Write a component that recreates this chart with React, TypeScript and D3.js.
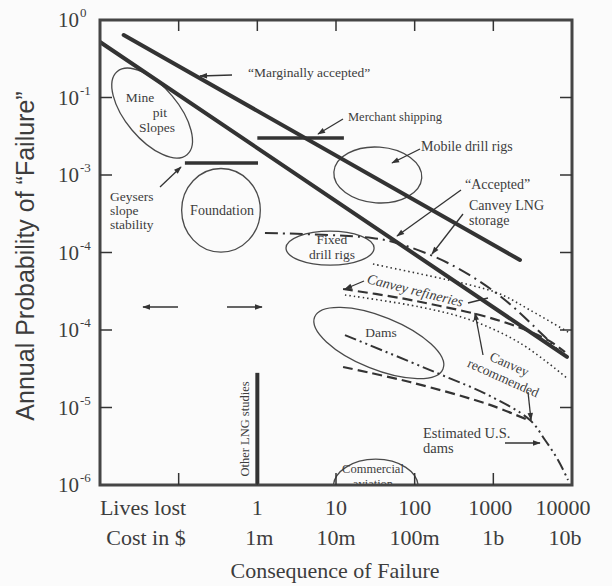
import React from 'react';
import * as d3 from 'd3';

const W = 612;
const H = 586;
const FRAME = { left: 100, top: 20, right: 572, bottom: 485 };

// Axis domains: lives lost (x) and annual probability of failure (y)
const livesDomain: [number, number] = [0.01, 10000];
const probDomain: [number, number] = [1e-6, 1];

const xTickValues = [1, 10, 100, 1000, 10000];
const livesLabels = ['1', '10', '100', '1000', '10000'];
const costLabels = ['1m', '10m', '100m', '1b', '10b'];
const xMinorTicks = [0.1, 1, 10, 100, 1000];
const yTickValues = [1, 1e-1, 1e-2, 1e-3, 1e-4, 1e-5, 1e-6];
const yTickExponents = ['0', '-1', '-3', '-4', '-4', '-5', '-6'];

// Criterion lines, [lives lost, annual probability]
const marginallyAccepted: [number, number][] = [[0.02, 0.64], [2180, 8.0e-4]];
const accepted: [number, number][] = [[0.01, 0.52], [8630, 4.5e-5]];
const merchantShipping: [number, number][] = [[1, 0.03], [12.6, 0.03]];
const geysersSlope: [number, number][] = [[0.12, 0.0143], [1.02, 0.0143]];
const otherLNGStudies: [number, number][] = [[1, 2.8e-5], [1, 1e-6]];

// Risk curves
const canveyLNGStorage: [number, number][] = [
  [1.25, 1.79e-3], [28.7, 1.54e-3], [65, 1.29e-3], [281, 7.1e-4], [1216, 2.75e-4], [4540, 8.1e-5], [7000, 5.2e-5],
];
const canveyUpperDotted: [number, number][] = [
  [29.5, 7.1e-4], [157, 4.97e-4], [505, 3.81e-4], [1216, 2.92e-4], [2920, 1.81e-4], [9420, 9.1e-5],
];
const canveyRefineries: [number, number][] = [
  [12.3, 3.38e-4], [65, 2.59e-4], [210, 2.04e-4], [676, 1.56e-4], [1880, 1.13e-4], [4950, 7.4e-5], [8150, 5.2e-5],
];
const canveyRecommended: [number, number][] = [
  [13, 2.83e-4], [117, 1.98e-4], [505, 1.35e-4], [2180, 6.8e-5], [8630, 2.4e-5],
];
const estimatedUSDams: [number, number][] = [
  [13, 8.6e-5], [192, 2.79e-5], [906, 1.41e-5], [2920, 6.9e-6], [4540, 3.81e-6], [6640, 2.1e-6], [8900, 1.16e-6],
];
const damsLower: [number, number][] = [
  [12.3, 3.33e-5], [87, 2.13e-5], [906, 1.08e-5], [2750, 6.9e-6],
];

// Experience regions: centre [lives, probability], half-axes in decades, tilt in degrees
const regionNames = ['minePit', 'foundation', 'mobileRigs', 'fixedRigs', 'dams', 'aviation'];
const regionCentres: [number, number][] = [
  [0.046, 0.063], [0.345, 3.5e-3], [34, 0.01], [8.4, 1.14e-3], [35, 6.8e-5], [32, 9.4e-7],
];
const regionHalfAxes: [number, number][] = [
  [0.69, 0.34], [0.5, 0.54], [0.56, 0.36], [0.56, 0.22], [0.88, 0.34], [0.54, 0.36],
];
const regionTilts = [50, 0, 4, 0, 22, 0];

const INK = '#333333';
const TEXT = '#3d3d3d';
const SERIF = '"Liberation Serif", "DejaVu Serif", serif';
const SANS = '"Liberation Sans", Arial, sans-serif';

export default function App() {
  const x = d3.scaleLog().domain(livesDomain).range([FRAME.left, FRAME.right]);
  const y = d3.scaleLog().domain(probDomain).range([FRAME.bottom, FRAME.top]);
  const decadeX = (FRAME.right - FRAME.left) / Math.log10(livesDomain[1] / livesDomain[0]);
  const decadeY = (FRAME.bottom - FRAME.top) / Math.log10(probDomain[1] / probDomain[0]);

  const straight = d3.line<[number, number]>().x((d) => x(d[0])).y((d) => y(d[1]));
  const smooth = d3
    .line<[number, number]>()
    .x((d) => x(d[0]))
    .y((d) => y(d[1]))
    .curve(d3.curveCatmullRom.alpha(0.5));

  const leaders: { x1: number; y1: number; x2: number; y2: number; head: boolean }[] = [
    { x1: 232, y1: 75, x2: 200, y2: 76, head: true },
    { x1: 343, y1: 119, x2: 318, y2: 134, head: true },
    { x1: 420, y1: 149, x2: 392, y2: 163, head: true },
    { x1: 461, y1: 190, x2: 397, y2: 236, head: true },
    { x1: 463, y1: 214, x2: 432, y2: 254, head: true },
    { x1: 160, y1: 187, x2: 181, y2: 167, head: true },
    { x1: 364, y1: 281, x2: 345, y2: 289, head: true },
    { x1: 468, y1: 303, x2: 488, y2: 298, head: false },
    { x1: 483, y1: 355, x2: 475, y2: 313, head: true },
    { x1: 528, y1: 392, x2: 531, y2: 420, head: true },
    { x1: 505, y1: 443, x2: 540, y2: 443, head: true },
    { x1: 178, y1: 307, x2: 143, y2: 307, head: true },
    { x1: 227, y1: 307, x2: 262, y2: 307, head: true },
  ];

  const smallText = { fontFamily: SERIF, fontSize: 13.5, fill: TEXT } as const;
  const axisText = { fontFamily: SERIF, fontSize: 22, fill: TEXT } as const;

  return (
    <svg
      width={W}
      height={H}
      viewBox={`0 0 ${W} ${H}`}
      style={{ position: 'absolute', left: 0, top: 0, background: '#fbfbfb' }}
    >
      <defs>
        <clipPath id="plot-clip">
          <rect x={FRAME.left} y={FRAME.top} width={FRAME.right - FRAME.left} height={FRAME.bottom - FRAME.top} />
        </clipPath>
        <marker id="head" viewBox="0 0 10 10" refX="9" refY="5" markerWidth="7" markerHeight="6" orient="auto">
          <path d="M0,1.5 L10,5 L0,8.5 z" fill={INK} />
        </marker>
      </defs>

      <g clipPath="url(#plot-clip)">
        {/* experience regions */}
        {regionNames.map((name, i) => {
          const [n, p] = regionCentres[i];
          const [a, b] = regionHalfAxes[i];
          const cx = x(n);
          const cy = y(p);
          return (
            <ellipse
              key={name}
              cx={cx}
              cy={cy}
              rx={a * decadeX}
              ry={b * decadeY}
              transform={`rotate(${regionTilts[i]} ${cx} ${cy})`}
              fill="none"
              stroke="#4a4a4a"
              strokeWidth={1.3}
            />
          );
        })}

        {/* risk curves */}
        <path d={smooth(canveyLNGStorage) ?? ''} fill="none" stroke={INK} strokeWidth={2} strokeDasharray="13,5,2,5" />
        <path d={smooth(canveyUpperDotted) ?? ''} fill="none" stroke={INK} strokeWidth={1.6} strokeDasharray="1.5,3" />
        <path d={smooth(canveyRefineries) ?? ''} fill="none" stroke={INK} strokeWidth={2.2} strokeDasharray="10,5" />
        <path d={smooth(canveyRecommended) ?? ''} fill="none" stroke={INK} strokeWidth={1.6} strokeDasharray="1.5,3" />
        <path d={smooth(estimatedUSDams) ?? ''} fill="none" stroke={INK} strokeWidth={2} strokeDasharray="12,4,2,4,2,4" />
        <path d={smooth(damsLower) ?? ''} fill="none" stroke={INK} strokeWidth={2.2} strokeDasharray="10,5" />

        {/* criterion lines */}
        <path d={straight(marginallyAccepted) ?? ''} fill="none" stroke={INK} strokeWidth={4} strokeLinecap="round" />
        <path d={straight(accepted) ?? ''} fill="none" stroke={INK} strokeWidth={4} strokeLinecap="round" />
        <path d={straight(merchantShipping) ?? ''} fill="none" stroke={INK} strokeWidth={3.5} />
        <path d={straight(geysersSlope) ?? ''} fill="none" stroke={INK} strokeWidth={3.5} />
        <path d={straight(otherLNGStudies) ?? ''} fill="none" stroke={INK} strokeWidth={4} />

        {/* region labels */}
        <text {...smallText} fontSize={12.5} textAnchor="middle" x={373} y={473}>Commercial</text>
        <text {...smallText} fontSize={12.5} textAnchor="middle" x={373} y={488}>aviation</text>
      </g>

      {/* leaders */}
      {leaders.map((l, i) => (
        <line
          key={i}
          x1={l.x1}
          y1={l.y1}
          x2={l.x2}
          y2={l.y2}
          stroke={INK}
          strokeWidth={1.3}
          markerEnd={l.head ? 'url(#head)' : undefined}
        />
      ))}

      {/* annotations */}
      <text {...smallText} x={248} y={77}>“Marginally accepted”</text>
      <text {...smallText} fontSize={12.5} x={348} y={121}>Merchant shipping</text>
      <text {...smallText} fontSize={14} x={421} y={151}>Mobile drill rigs</text>
      <text {...smallText} fontSize={14} x={465} y={189}>“Accepted”</text>
      <text {...smallText} fontSize={14} x={469} y={210}>Canvey LNG</text>
      <text {...smallText} fontSize={14} x={469} y={225}>storage</text>
      <text {...smallText} x={110} y={201}>Geysers</text>
      <text {...smallText} x={110} y={215}>slope</text>
      <text {...smallText} x={110} y={229}>stability</text>
      <text {...smallText} textAnchor="middle" x={140} y={102}>Mine</text>
      <text {...smallText} textAnchor="middle" x={160} y={117}>pit</text>
      <text {...smallText} textAnchor="middle" x={157} y={132}>Slopes</text>
      <text {...smallText} fontSize={14} textAnchor="middle" x={222} y={215}>Foundation</text>
      <text {...smallText} textAnchor="middle" x={332} y={244}>Fixed</text>
      <text {...smallText} textAnchor="middle" x={332} y={259}>drill rigs</text>
      <text {...smallText} textAnchor="middle" x={381} y={337}>Dams</text>
      <text {...smallText} fontSize={14} fontStyle="italic" textAnchor="middle" transform="translate(414,295) rotate(14)">
        Canvey refineries
      </text>
      <g transform="translate(506,372) rotate(24)">
        <text {...smallText} textAnchor="middle" x={0} y={-4}>Canvey</text>
        <text {...smallText} textAnchor="middle" x={0} y={11}>recommended</text>
      </g>
      <text {...smallText} fontSize={14.5} x={423} y={438}>Estimated U.S.</text>
      <text {...smallText} fontSize={14.5} x={423} y={453}>dams</text>
      <text {...smallText} fontSize={12.5} textAnchor="middle" transform="translate(249,429) rotate(-90)">
        Other LNG studies
      </text>

      {/* frame and ticks */}
      <rect
        x={FRAME.left}
        y={FRAME.top}
        width={FRAME.right - FRAME.left}
        height={FRAME.bottom - FRAME.top}
        fill="none"
        stroke="#454545"
        strokeWidth={3}
      />
      {yTickValues.slice(1, -1).map((v) => (
        <g key={v}>
          <line x1={FRAME.left} x2={FRAME.left + 12} y1={y(v)} y2={y(v)} stroke={INK} strokeWidth={1.5} />
          <line x1={FRAME.right - 12} x2={FRAME.right} y1={y(v)} y2={y(v)} stroke={INK} strokeWidth={1.5} />
        </g>
      ))}
      {xMinorTicks.map((v) => (
        <g key={v}>
          <line x1={x(v)} x2={x(v)} y1={FRAME.bottom} y2={FRAME.bottom - 12} stroke={INK} strokeWidth={1.5} />
          <line x1={x(v)} x2={x(v)} y1={FRAME.top} y2={FRAME.top + 11} stroke={INK} strokeWidth={1.5} />
        </g>
      ))}

      {/* y tick labels */}
      {yTickValues.map((v, i) => (
        <text key={v} fontFamily={SERIF} fill={TEXT} y={y(v) + 7}>
          <tspan x={79} textAnchor="end" fontSize={21}>10</tspan>
          <tspan x={80} dy={-10} fontSize={13}>{yTickExponents[i]}</tspan>
        </text>
      ))}

      {/* x tick labels */}
      <text {...axisText} textAnchor="middle" x={143} y={515}>Lives lost</text>
      <text {...axisText} textAnchor="middle" x={146} y={545}>Cost in $</text>
      {xTickValues.map((v, i) => (
        <g key={v}>
          <text {...axisText} textAnchor="middle" x={x(v) - (i === 4 ? 9 : i === 3 ? 3 : 0)} y={515}>
            {livesLabels[i]}
          </text>
          <text {...axisText} textAnchor="middle" x={x(v) + (i === 4 ? -7 : i === 0 ? 2 : 0)} y={545}>
            {costLabels[i]}
          </text>
        </g>
      ))}
      <text {...axisText} textAnchor="middle" x={335} y={578}>
        Consequence of Failure
      </text>

      {/* y axis title */}
      <text fontFamily={SANS} fontSize={25} fill={TEXT} textAnchor="middle" transform="translate(34,256) rotate(-90)">
        Annual Probability of “Failure”
      </text>
    </svg>
  );
}
